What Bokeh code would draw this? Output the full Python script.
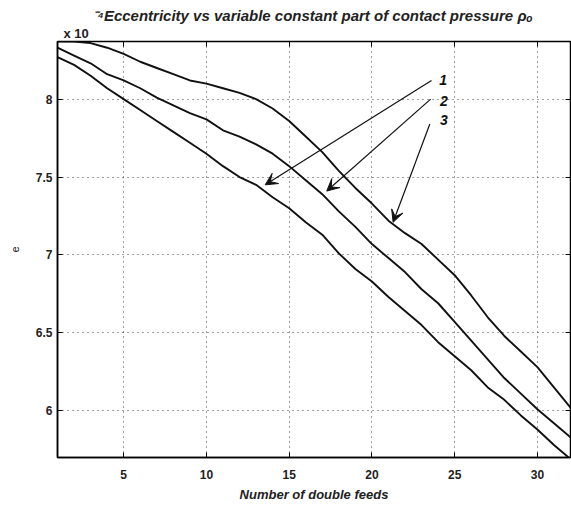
from bokeh.plotting import figure
from bokeh.models import (Label, Arrow, VeeHead, LinearAxis, FixedTicker,
                          Range1d, Title)
from bokeh.embed import file_html
from bokeh.resources import INLINE

# Number of double feeds
feeds = list(range(1, 33))

# Eccentricity e (in units of 1e-4) for the three cases
ecc_1 = [8.27, 8.22, 8.15, 8.07, 8.00, 7.93, 7.86, 7.79, 7.72, 7.65, 7.57,
         7.50, 7.45, 7.37, 7.30, 7.21, 7.13, 7.01, 6.91, 6.83, 6.73, 6.64,
         6.55, 6.44, 6.35, 6.26, 6.15, 6.07, 5.97, 5.88, 5.78, 5.69]
ecc_2 = [8.33, 8.28, 8.23, 8.16, 8.12, 8.07, 8.01, 7.96, 7.91, 7.87, 7.80,
         7.76, 7.71, 7.65, 7.57, 7.48, 7.39, 7.28, 7.18, 7.07, 6.98, 6.89,
         6.78, 6.69, 6.57, 6.45, 6.33, 6.21, 6.11, 6.01, 5.92, 5.83]
ecc_3 = [8.37, 8.37, 8.36, 8.33, 8.29, 8.24, 8.20, 8.16, 8.12, 8.10, 8.07,
         8.04, 8.00, 7.94, 7.86, 7.76, 7.66, 7.54, 7.43, 7.33, 7.22, 7.14,
         7.07, 6.97, 6.87, 6.74, 6.60, 6.48, 6.38, 6.28, 6.15, 6.02]

x_ticks = [5, 10, 15, 20, 25, 30]
y_ticks = [6, 6.5, 7, 7.5, 8]
y_tick_labels = ["6", "6.5", "7", "7.5", "8"]

# curve labels: name, text position, arrow tip
curve_names = ["1", "2", "3"]
label_x = [24.3, 24.35, 24.35]
label_y = [8.12, 7.99, 7.865]
arrow_tail_x = [23.6, 23.55, 23.5]
arrow_tail_y = [8.12, 8.00, 7.84]
arrow_tip_x = [13.55, 17.27, 21.28]
arrow_tip_y = [7.45, 7.41, 7.21]

FONT = "Liberation Sans"
INK = "#222222"

p = figure(width=571, height=507, output_backend="svg", toolbar_location=None,
           x_range=Range1d(1, 32), y_range=Range1d(5.7, 8.37),
           min_border_left=57, min_border_right=1, min_border_top=41,
           min_border_bottom=50, background_fill_color="white",
           border_fill_color="white")

p.outline_line_color = "black"
p.outline_line_width = 1.5

for ax in (p.xaxis[0], p.yaxis[0]):
    ax.major_tick_in = 5
    ax.major_tick_out = 0
    ax.minor_tick_line_color = None
    ax.axis_line_color = "black"
    ax.axis_line_width = 1.5
    ax.major_label_text_font = FONT
    ax.major_label_text_font_style = "bold"
    ax.major_label_text_font_size = "12px"
    ax.major_label_text_color = INK

p.xaxis.ticker = FixedTicker(ticks=x_ticks)
p.yaxis.ticker = FixedTicker(ticks=y_ticks)
p.yaxis.major_label_overrides = {t: s for t, s in zip(y_ticks, y_tick_labels)}
p.xaxis.major_label_standoff = 12
p.yaxis.major_label_standoff = 5

p.xaxis.axis_label = "Number of double feeds"
p.xaxis.axis_label_text_font = FONT
p.xaxis.axis_label_text_font_style = "bold italic"
p.xaxis.axis_label_text_font_size = "13px"
p.xaxis.axis_label_text_color = INK
p.xaxis.axis_label_standoff = 5

p.yaxis.axis_label = "e"
p.yaxis.axis_label_text_font = FONT
p.yaxis.axis_label_text_font_style = "normal"
p.yaxis.axis_label_text_font_size = "11px"
p.yaxis.axis_label_text_color = INK
p.yaxis.axis_label_standoff = 14

# box ticks on the top and right edges (no labels)
top_ax = LinearAxis(ticker=FixedTicker(ticks=x_ticks), major_tick_in=5,
                    major_tick_out=0, minor_tick_line_color=None,
                    major_label_text_color=None, major_label_standoff=0,
                    axis_line_color=None)
right_ax = LinearAxis(ticker=FixedTicker(ticks=y_ticks), major_tick_in=5,
                      major_tick_out=0, minor_tick_line_color=None,
                      major_label_text_color=None, major_label_standoff=0,
                      axis_line_color=None)
p.add_layout(top_ax, "above")
p.add_layout(right_ax, "right")

p.xgrid.ticker = FixedTicker(ticks=x_ticks)
p.ygrid.ticker = FixedTicker(ticks=y_ticks)
for g in (p.xgrid[0], p.ygrid[0]):
    g.grid_line_color = "black"
    g.grid_line_alpha = 0.75
    g.grid_line_width = 1
    g.grid_line_dash = "1 4"

for ys in (ecc_1, ecc_2, ecc_3):
    p.line(feeds, ys, line_color="#111111", line_width=1.9)

for i in range(3):
    p.add_layout(Arrow(end=VeeHead(size=12, fill_color="#111111",
                                   line_color="#111111", line_width=1),
                       x_start=arrow_tail_x[i], y_start=arrow_tail_y[i],
                       x_end=arrow_tip_x[i], y_end=arrow_tip_y[i],
                       line_color="#111111", line_width=1.2))
    p.add_layout(Label(x=label_x[i], y=label_y[i], text=curve_names[i],
                       text_font=FONT, text_font_style="bold italic",
                       text_font_size="14px", text_align="center",
                       text_baseline="middle", text_color="#111111"))

# scale factor of the y axis, just above the box
p.add_layout(Title(text="x 10", text_font=FONT, text_font_style="bold",
                   text_font_size="13px", text_color=INK, align="left",
                   offset=6, standoff=1), "above")

# main title with the exponent of the scale factor in front
p.title.text = ("\u207b\u2074Eccentricity vs variable constant part of "
                "contact pressure \u03c1\u2092")
p.title.text_font = FONT
p.title.text_font_style = "bold italic"
p.title.text_font_size = "15px"
p.title.text_color = INK
p.title.align = "left"
p.title.offset = 35
p.title.standoff = 0

open("out.html", "w").write(file_html(p, INLINE))
